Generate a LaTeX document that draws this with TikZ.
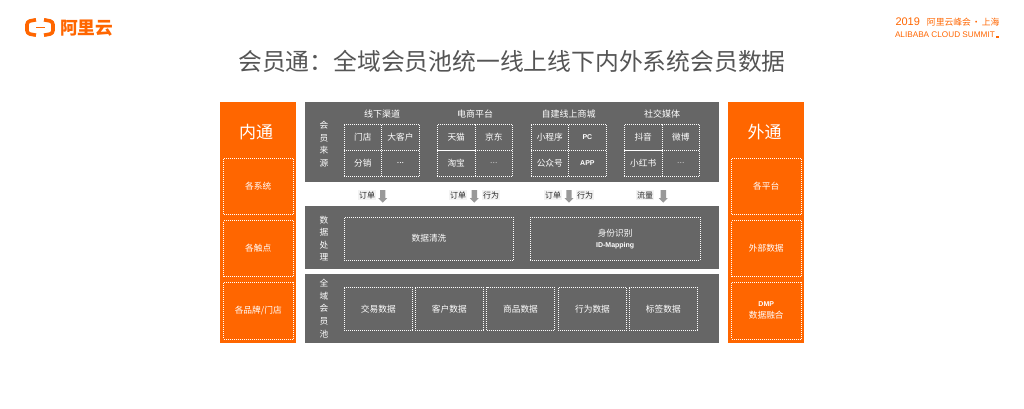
\documentclass[tikz,border=0pt]{standalone}
\usepackage{fontspec}
\usetikzlibrary{positioning}
\usetikzlibrary{shapes.arrows}
\setmainfont{Noto Sans CJK SC}
\newfontfamily\latinfont{Liberation Sans}
\definecolor{aliorange}{HTML}{FF6600}
\definecolor{paneldark}{HTML}{666666}
\definecolor{titlegray}{HTML}{555555}
\definecolor{arrowgray}{HTML}{999999}
\definecolor{labelpale}{HTML}{F3F3F3}

\begin{document}
\begin{tikzpicture}[x=1pt, y=-1pt, node distance=0pt, inner sep=0pt, outer sep=0pt,
    sidepanel/.style={rectangle, fill=aliorange, anchor=north west, minimum width=76pt, minimum height=241pt},
    panel/.style={rectangle, fill=paneldark, anchor=north west, minimum width=414pt},
    sidebox/.style={rectangle, draw=white, line width=0.8pt, dash pattern=on 0.9pt off 1.1pt, text=white, anchor=north west, minimum width=69.5pt, align=center, font=\fontsize{8.7}{12}\selectfont},
    cell/.style={rectangle, draw=white, line width=0.8pt, dash pattern=on 0.9pt off 1.1pt, text=white, minimum width=37.6pt, minimum height=25.9pt, align=center, font=\fontsize{8.7}{11}\selectfont},
    wide/.style={rectangle, draw=white, line width=0.8pt, dash pattern=on 0.9pt off 1.1pt, text=white, anchor=north west, align=center, font=\fontsize{8.7}{11}\selectfont},
    head/.style={text=white, font=\fontsize{9}{11}\selectfont},
    sidehead/.style={text=white, font=\fontsize{17}{20}\selectfont},
    vlabel/.style={text=white, align=center, font=\fontsize{8.7}{12.55}\selectfont},
    flowlabel/.style={fill=labelpale, text=black!85, inner sep=1pt, font=\fontsize{8}{10}\selectfont},
    flowarrow/.style={shape=single arrow, fill=arrowgray, inner sep=2.5pt, shape border rotate=270, minimum height=12.5pt, single arrow head extend=1.7pt, single arrow tip angle=90},
    latinbold/.style={font=\latinfont\bfseries\fontsize{7}{11}\selectfont}]
    \useasboundingbox (0,0) rectangle (1024,409);

    % Header
    \fill[white] (0,0) rectangle (1024,409);
    \draw[aliorange, line width=3.6pt, line join=round, rounded corners=3pt] (36,19.8) -- (27,21.5) -- (27,33.5) -- (36,35.2);
    \draw[aliorange, line width=3.6pt, line join=round, rounded corners=3pt] (44,19.8) -- (53,21.5) -- (53,33.5) -- (44,35.2);
    \fill[aliorange] (35.5,26.9) rectangle (44.5,28.3);
    \node[anchor=west, text=aliorange, font=\bfseries\fontsize{17.7}{20}\selectfont] (logotext) at (60,28) {阿里云};
    \node[anchor=west, text=aliorange, font=\fontsize{8.8}{14}\selectfont] (summitcn) at (895.5,22) {{\latinfont\fontsize{11}{14}\selectfont 2019}\hspace{7pt}阿里云峰会\hspace{1pt}·\hspace{1pt}上海};
    \node[anchor=west, text=aliorange, font=\latinfont\fontsize{8.2}{10}\selectfont] (summiten) at (895,35) {ALIBABA CLOUD SUMMIT};
    \fill[aliorange] (996,36.5) rectangle (999,38);
    \node[text=titlegray, font=\fontsize{23.8}{28}\selectfont] (title) at (512,61.5) {会员通：全域会员池统一线上线下内外系统会员数据};

    % Side panels
    \node[sidepanel] (inner) at (220,102) {};
    \node[sidepanel] (outer) at (728,102) {};
    \node[sidehead] (innerhead) at (256,132) {内通};
    \node[sidehead] (outerhead) at (764.7,132) {外通};
    \node[sidebox, minimum height=56pt] (systems) at (223.5,158) {各系统};
    \node[sidebox, minimum height=56pt] (touch) at (223.5,220.5) {各触点};
    \node[sidebox, minimum height=56.5pt] (brands) at (223.5,282.5) {各品牌/门店};
    \node[sidebox, minimum height=56pt] (platforms) at (731.5,158) {各平台};
    \node[sidebox, minimum height=56pt] (external) at (731.5,220.5) {外部数据};
    \node[sidebox, minimum height=56.5pt] (fusion) at (731.5,282.5) {{\latinfont\bfseries\fontsize{7}{11}\selectfont DMP}\\数据融合};

    % Source panel
    \node[panel, minimum height=80pt] (source) at (305,102) {};
    \node[vlabel] (sourcelabel) at (324,144) {会\\员\\来\\源};
    \node[head] (offlinehead) at (382,114.5) {线下渠道};
    \node[head] (ecomhead) at (475,114.5) {电商平台};
    \node[head] (ownhead) at (568.5,114.5) {自建线上商城};
    \node[head] (socialhead) at (662,114.5) {社交媒体};

    \node[cell] (store) at (362.9,137.3) {门店};
    \node[cell, right=of store] (client) {大客户};
    \node[cell, below=of store] (dist) {分销};
    \node[cell, right=of dist] (moreA) {...};

    \node[cell] (tmall) at (456.2,137.3) {天猫};
    \node[cell, right=of tmall] (jd) {京东};
    \node[cell, below=of tmall] (taobao) {淘宝};
    \node[cell, right=of taobao, text=white!60!paneldark] (moreB) {...};

    \node[cell] (mini) at (549.8,137.3) {小程序};
    \node[cell, right=of mini, latinbold] (pc) {PC};
    \node[cell, below=of mini] (official) {公众号};
    \node[cell, right=of official, latinbold] (app) {APP};

    \node[cell] (douyin) at (643.2,137.3) {抖音};
    \node[cell, right=of douyin] (weibo) {微博};
    \node[cell, below=of douyin] (redbook) {小红书};
    \node[cell, right=of redbook, text=white!60!paneldark] (moreC) {...};

    % Flow between panels
    \node[flowarrow] (arrowA) at (382.7,195) {};
    \node[flowarrow] (arrowB) at (474.3,195) {};
    \node[flowarrow] (arrowC) at (569,195) {};
    \node[flowarrow] (arrowD) at (663.3,195) {};
    \node[flowlabel] (orderA) at (367,195) {订单};
    \node[flowlabel] (orderB) at (458,195) {订单};
    \node[flowlabel] (actionB) at (491,195) {行为};
    \node[flowlabel] (orderC) at (553,195) {订单};
    \node[flowlabel] (actionC) at (585,195) {行为};
    \node[flowlabel] (traffic) at (645,195) {流量};

    % Processing panel
    \node[panel, minimum height=63pt] (process) at (305,206) {};
    \node[vlabel] (processlabel) at (324,238.5) {数\\据\\处\\理};
    \node[wide, minimum width=169.4pt, minimum height=42.7pt] (cleaning) at (344.3,217.3) {数据清洗};
    \node[wide, minimum width=169.7pt, minimum height=42.7pt] (identity) at (530.3,217.3) {身份识别\\{\latinfont\bfseries\fontsize{7}{10}\selectfont ID-Mapping}};

    % Member pool panel
    \node[panel, minimum height=69pt] (pool) at (305,274) {};
    \node[vlabel] (poollabel) at (324,308.5) {全\\域\\会\\员\\池};
    \node[wide, minimum width=68pt, minimum height=43pt] (trade) at (344.3,287.3) {交易数据};
    \node[wide, minimum width=68pt, minimum height=43pt] (customer) at (415.3,287.3) {客户数据};
    \node[wide, minimum width=67.6pt, minimum height=43pt] (goods) at (486.7,287.3) {商品数据};
    \node[wide, minimum width=68.4pt, minimum height=43pt] (behavior) at (558.3,287.3) {行为数据};
    \node[wide, minimum width=68pt, minimum height=43pt] (tags) at (629.3,287.3) {标签数据};
\end{tikzpicture}
\end{document}
